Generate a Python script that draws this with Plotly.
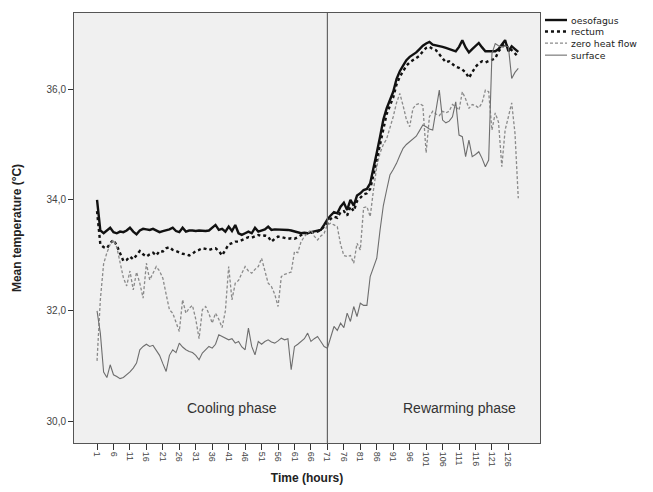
import plotly.graph_objects as go

hours = list(range(1, 130))

oesofagus = [
    34.0, 33.45, 33.4, 33.45, 33.5, 33.42, 33.4, 33.43, 33.42, 33.45,
    33.5, 33.43, 33.38, 33.45, 33.48, 33.47, 33.46, 33.48, 33.45, 33.42,
    33.44, 33.45, 33.47, 33.5, 33.44, 33.42, 33.5, 33.43, 33.45, 33.45,
    33.44, 33.45, 33.44, 33.44, 33.45, 33.5, 33.55, 33.46, 33.48, 33.43,
    33.52, 33.44, 33.55, 33.4, 33.37, 33.4, 33.43, 33.4, 33.5, 33.43,
    33.45, 33.47, 33.52, 33.46, 33.47, 33.47, 33.46, 33.47, 33.46, 33.45,
    33.43, 33.42, 33.4, 33.41, 33.4, 33.42, 33.43, 33.44, 33.46, 33.55,
    33.65, 33.72, 33.78, 33.76, 33.88, 33.95, 33.82, 34.0, 33.9, 34.08,
    34.12, 34.18, 34.2, 34.3, 34.55, 34.85, 35.14, 35.45, 35.65, 35.8,
    35.95, 36.18, 36.32, 36.42, 36.52, 36.58, 36.62, 36.66, 36.72, 36.78,
    36.82, 36.85, 36.8, 36.79, 36.78, 36.76, 36.74, 36.72, 36.7, 36.68,
    36.76, 36.88, 36.75, 36.66, 36.72, 36.78, 36.83, 36.75, 36.68, 36.68,
    36.68, 36.68, 36.72, 36.8, 36.88, 36.68, 36.77, 36.72, 36.67,
]

rectum = [
    33.8, 33.2, 33.15, 33.13, 33.22, 33.28, 33.18, 33.05, 32.9, 32.92,
    32.98, 32.93, 33.0, 33.08, 33.02, 32.98, 33.02, 33.05, 33.0, 33.08,
    33.07, 33.13, 33.15, 33.1, 33.08, 33.05, 33.03, 33.02, 33.0, 33.03,
    33.08, 33.1, 33.13, 33.12, 33.1, 33.12, 33.13, 33.08, 33.0, 33.1,
    33.2, 33.22, 33.25, 33.25, 33.28, 33.3, 33.33, 33.32, 33.35, 33.37,
    33.35, 33.36, 33.34, 33.25, 33.3, 33.34, 33.33, 33.32, 33.3, 33.31,
    33.3, 33.33, 33.36, 33.4, 33.4, 33.41, 33.41, 33.43, 33.46, 33.52,
    33.58, 33.66, 33.7, 33.68, 33.78, 33.8, 33.72, 33.88, 33.8, 33.98,
    34.05, 34.1, 34.12, 34.2, 34.45, 34.72, 35.0, 35.32, 35.55, 35.7,
    35.85, 36.08, 36.22, 36.32, 36.42, 36.48, 36.52, 36.56, 36.6, 36.68,
    36.74, 36.76, 36.72, 36.7, 36.62, 36.55, 36.48, 36.5, 36.45, 36.4,
    36.38, 36.35, 36.3, 36.2, 36.3, 36.4, 36.46, 36.5, 36.48, 36.5,
    36.52, 36.55, 36.68, 36.75, 36.82, 36.74, 36.7, 36.64, 36.58,
]

zero_heat_flow = [
    31.1, 32.2, 32.85, 33.05, 33.2, 33.28, 33.15, 32.86, 32.6, 32.45,
    32.72, 32.38, 32.7, 32.5, 32.23, 32.86, 32.56, 32.68, 32.8, 32.72,
    32.59, 32.3, 32.02, 31.96, 31.8, 31.63, 32.2, 31.96, 32.05, 32.1,
    31.85, 31.5, 32.02, 32.08, 31.95, 31.78, 31.96, 31.85, 31.7, 32.0,
    32.8, 32.2, 32.5, 32.55, 32.68, 32.8, 32.72, 32.68, 32.75, 32.8,
    32.95, 32.7, 32.5, 32.44, 32.3, 32.08, 32.62, 32.66, 32.68, 32.7,
    33.07, 33.05, 33.25, 33.34, 33.4, 33.46, 33.35, 33.28, 33.35, 33.4,
    33.55, 33.58, 33.55, 33.52, 33.2, 33.0, 32.98, 33.0, 32.86, 33.22,
    33.1, 33.86, 33.88, 33.7, 34.18, 34.6, 34.85, 35.0, 35.1, 35.3,
    35.5, 35.75, 35.92, 35.7, 35.45, 35.32, 35.65, 35.72, 35.74, 35.7,
    34.85, 35.5, 35.6, 35.55, 35.52, 35.6, 35.57, 35.6, 35.72, 35.68,
    35.62, 35.95, 35.82, 35.65, 35.72, 35.7, 35.66, 35.75, 35.98, 35.95,
    35.26, 35.57, 35.4, 34.6, 35.26, 35.5, 35.75, 35.2, 34.03,
]

surface = [
    32.0, 31.6, 30.9, 30.8, 31.03, 30.85, 30.82, 30.78, 30.8, 30.85,
    30.9, 30.97, 31.06, 31.3, 31.36, 31.4, 31.36, 31.38, 31.3, 31.2,
    31.05, 30.91, 31.2, 31.3, 31.25, 31.42, 31.35, 31.3, 31.27, 31.25,
    31.2, 31.12, 31.24, 31.3, 31.36, 31.33, 31.4, 31.57, 31.54, 31.52,
    31.48, 31.5, 31.42, 31.45, 31.35, 31.3, 31.69, 31.36, 31.21, 31.45,
    31.4, 31.45, 31.48, 31.44, 31.42, 31.46, 31.51, 31.48, 31.5, 30.94,
    31.36, 31.4, 31.45, 31.5, 31.6, 31.45, 31.5, 31.54, 31.45, 31.36,
    31.33, 31.51, 31.72, 31.65, 31.78, 31.7, 31.96, 31.81, 32.08, 31.9,
    32.14, 32.1, 32.1, 32.62, 32.8, 32.95, 33.46, 33.9, 34.18, 34.45,
    34.55, 34.66, 34.8, 34.93, 35.0, 35.05, 35.11, 35.15, 35.25, 35.35,
    35.32, 35.28, 35.26, 35.6, 35.98, 35.44, 35.39, 35.42, 35.5, 35.77,
    35.17, 35.14, 34.78, 35.08, 34.78, 34.82, 34.87, 34.75, 34.6, 34.72,
    36.64, 36.82, 36.78, 36.76, 36.78, 36.76, 36.19, 36.3, 36.37,
]

series_names = ["oesofagus", "rectum", "zero heat flow", "surface"]

x_tick_vals = list(range(1, 127, 5))
x_tick_text = [str(v) for v in x_tick_vals]
y_tick_vals = [30, 32, 34, 36]
y_tick_text = ["30,0", "32,0", "34,0", "36,0"]

phase_boundary = 71
phase_labels = ["Cooling phase", "Rewarming phase"]
phase_label_x = [42, 111]
phase_label_y = 30.25

styles = [
    dict(color="#111111", width=2.4),
    dict(color="#111111", width=2.4, dash="dot"),
    dict(color="#8a8a8a", width=1.3, dash="3px,2px"),
    dict(color="#6e6e6e", width=1.1),
]

fig = go.Figure()
for name, ys, st in zip(series_names, [oesofagus, rectum, zero_heat_flow, surface], styles):
    fig.add_trace(go.Scatter(x=hours, y=ys, mode="lines", name=name, line=st,
                             showlegend=False))

fig.add_shape(type="line", x0=phase_boundary, x1=phase_boundary, xref="x",
              y0=0, y1=1, yref="y domain", line=dict(color="#666666", width=1.2))

for txt, xv in zip(phase_labels, phase_label_x):
    fig.add_annotation(x=xv, y=phase_label_y, text=txt, showarrow=False,
                       font=dict(family="Liberation Sans, Arial", size=14, color="#333333"))

# legend drawn at the right, outside the plot frame
leg_y = [0.9837, 0.957, 0.930, 0.902]
for name, st, yy in zip(series_names, styles, leg_y):
    fig.add_shape(type="line", xref="paper", yref="paper", x0=1.0107, x1=1.058,
                  y0=yy, y1=yy, line=st)
    fig.add_annotation(xref="paper", yref="paper", x=1.062, y=yy, text=name,
                       xanchor="left", yanchor="middle", showarrow=False,
                       font=dict(family="DejaVu Sans", size=9.3, color="#222222"))

# the page body adds an 8px offset, so the figure is 8px smaller on each side
fig.update_layout(
    width=645, height=484,
    margin=dict(l=66, r=113, t=5, b=49),
    paper_bgcolor="white",
    plot_bgcolor="#f0f0f0",
    font=dict(family="Liberation Sans, Arial", color="#333333"),
    showlegend=False,
)
fig.update_xaxes(
    range=[-6, 135.6], tickmode="array", tickvals=x_tick_vals, ticktext=x_tick_text,
    tickangle=90, ticks="outside", ticklen=6, tickcolor="#333333",
    tickfont=dict(size=9, color="#444444"), automargin=False,
    showgrid=False, zeroline=False, showline=True, linecolor="#555555", mirror=True,
    title=dict(text="<b>Time (hours)</b>", font=dict(size=12, color="#222222"), standoff=7),
)
fig.update_yaxes(
    range=[29.62, 37.37], tickmode="array", tickvals=y_tick_vals, ticktext=y_tick_text,
    ticks="outside", ticklen=5, tickcolor="#333333",
    tickfont=dict(size=10, color="#444444"), automargin=False,
    showgrid=False, zeroline=False, showline=True, linecolor="#555555", mirror=True,
    title=dict(text="<b>Mean temperature (°C)</b>", font=dict(size=12, color="#222222"), standoff=22),
)

fig.write_html("out.html")
